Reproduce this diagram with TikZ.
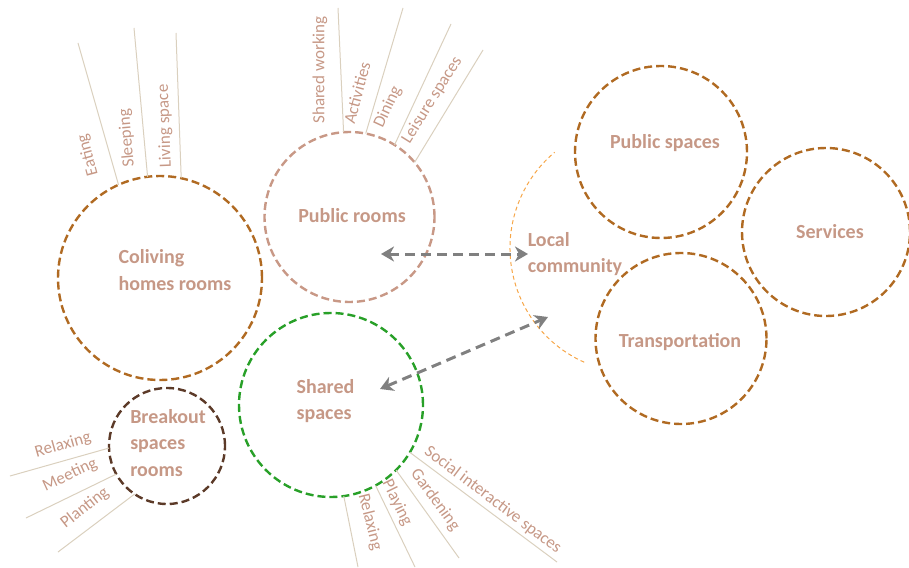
\documentclass[tikz,border=0pt]{standalone}
\usepackage{fontspec}
\setmainfont{Carlito}
\usetikzlibrary{arrows.meta}
\definecolor{textc}{RGB}{198,152,134}
\definecolor{spokec}{RGB}{218,208,190}
\definecolor{brownc}{RGB}{176,106,34}
\definecolor{rosec}{RGB}{200,152,134}
\definecolor{greenc}{RGB}{40,160,40}
\definecolor{darkbrownc}{RGB}{92,58,40}
\definecolor{orangec}{RGB}{246,166,72}
\definecolor{grayc}{RGB}{128,128,128}
\begin{document}
\begin{tikzpicture}[x=1pt,y=-1pt,
  ring/.style={circle,draw,line width=2.4pt,dash pattern=on 8pt off 4pt,inner sep=0pt,outer sep=0pt,minimum size=#1},
  title/.style={text=textc,font=\bfseries\fontsize{20}{26.5}\selectfont,align=left,inner sep=0pt},
  lbl/.style={text=textc,font=\fontsize{17}{20}\selectfont,inner sep=0pt},
  spoke/.style={draw=spokec,line width=1pt},
  localarc/.style={draw=orangec,line width=1pt,dash pattern=on 4pt off 3pt},
  link/.style={draw=grayc,line width=3pt,dash pattern=on 10pt off 6pt,
    {Stealth[length=13pt,width=15pt,inset=4pt,sep=0pt]}-{Stealth[length=13pt,width=15pt,inset=4pt,sep=0pt]}}
]
\useasboundingbox (0,0) rectangle (909,567);

% circles
\node[ring=204pt,draw=brownc] (col) at (160,278) {};
\node[ring=170pt,draw=rosec] (pub) at (349.5,217) {};
\node[ring=184pt,draw=greenc] (sha) at (331,405) {};
\node[ring=116pt,draw=darkbrownc] (brk) at (167,446) {};
\node[ring=172pt,draw=brownc] (psp) at (661,152) {};
\node[ring=168pt,draw=brownc] (srv) at (826,232) {};
\node[ring=171pt,draw=brownc] (trn) at (681,338.5) {};

% local community arc (y axis points down here)
\coordinate (lc) at (635,248);
\draw[localarc] ([shift={(114:125)}]lc) arc[start angle=114,end angle=230,radius=125];

% titles
\node[title] (tcol) at (175,270) {Coliving\\homes rooms};
\node[title] (tpub) at (352,216) {Public rooms};
\node[title] (tsha) at (325.5,401) {Shared\\spaces};
\node[title] (tbrk) at (168,443) {Breakout\\spaces\\rooms};
\node[title] (tpsp) at (665,143) {Public spaces};
\node[title] (tsrv) at (830,232) {Services};
\node[title] (ttrn) at (680,342) {Transportation};
\node[title] (tloc) at (575,254) {Local\\community};

% arrows
\coordinate (a1) at (381,254);
\coordinate (a2) at (528,254);
\coordinate (b1) at (380,389);
\coordinate (b2) at (548,317);
\draw[link] (a1) -- (a2);
\draw[link] (b1) -- (b2);

% coliving spokes
\coordinate (ce) at (78,43);
\coordinate (cs) at (134,28);
\coordinate (cl) at (176,33);
\draw[spoke] (col.114.6) -- (ce);
\draw[spoke] (col.97) -- (cs);
\draw[spoke] (col.78.5) -- (cl);
\node[lbl,rotate=105] (le) at (88,155) {Eating};
\node[lbl,rotate=95] (ls) at (127,138) {Sleeping};
\node[lbl,rotate=92] (ll) at (165,126) {Living space};

% public rooms spokes
\coordinate (pw) at (338,8);
\coordinate (pa) at (403,8);
\coordinate (pd) at (451,24);
\coordinate (pl) at (483,50);
\draw[spoke] (pub.94) -- (pw);
\draw[spoke] (pub.79) -- (pa);
\draw[spoke] (pub.58.7) -- (pd);
\draw[spoke] (pub.40.5) -- (pl);
\node[lbl,rotate=90] (lpw) at (320,70) {Shared working};
\node[lbl,rotate=75] (lpa) at (357,93) {Activities};
\node[lbl,rotate=65] (lpd) at (388,107) {Dining};
\node[lbl,rotate=58] (lpl) at (432,100) {Leisure spaces};

% breakout spokes
\coordinate (br) at (10,476);
\coordinate (bm) at (26,518);
\coordinate (bp) at (58,552);
\draw[spoke] (brk.182) -- (br);
\draw[spoke] (brk.209.5) -- (bm);
\draw[spoke] (brk.236.6) -- (bp);
\node[lbl,rotate=16] (lbr) at (63,445) {Relaxing};
\node[lbl,rotate=25] (lbm) at (70,475) {Meeting};
\node[lbl,rotate=38] (lbp) at (85,508) {Planting};

% shared spaces spokes
\coordinate (sr) at (358,567);
\coordinate (sp) at (415,567);
\coordinate (sg) at (459,558);
\coordinate (ss) at (557,562);
\draw[spoke] (sha.-82.6) -- (sr);
\draw[spoke] (sha.-61) -- (sp);
\draw[spoke] (sha.-45.4) -- (sg);
\draw[spoke] (sha.-31.4) -- (ss);
\node[lbl,rotate=-76] (lsr) at (370,522) {Relaxing};
\node[lbl,rotate=-64] (lsp) at (397,503) {Playing};
\node[lbl,rotate=-54] (lsg) at (435,500) {Gardening};
\node[lbl,rotate=-37] (lss) at (493,500) {Social interactive spaces};
\end{tikzpicture}
\end{document}
